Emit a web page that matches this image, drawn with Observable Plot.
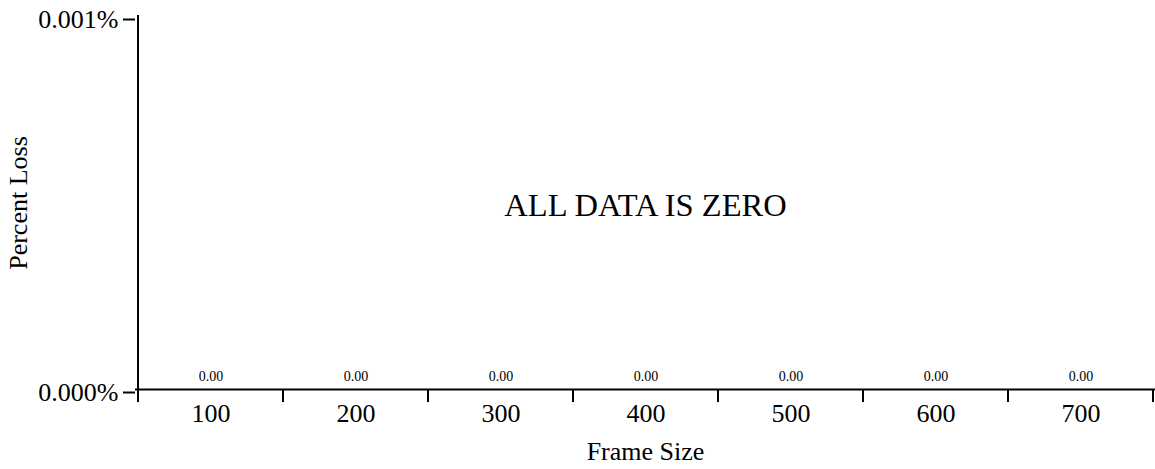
<!DOCTYPE html>
<html>
<head>
<meta charset="utf-8">
<script src="https://cdn.jsdelivr.net/npm/d3@7"></script>
<script src="https://cdn.jsdelivr.net/npm/@observablehq/plot@0.6"></script>
<style>
  html, body { margin: 0; padding: 0; background: #fff; }
</style>
</head>
<body>
<div id="chart"></div>
<script>
const frameSizes = ["100", "200", "300", "400", "500", "600", "700"];
const lossValues = [0, 0, 0, 0, 0, 0, 0];
const yTicks = [0, 0.00001];
const yTickLabels = ["0.000%", "0.001%"];
const centerMessage = "ALL DATA IS ZERO";
const xTitle = "Frame Size";
const yTitle = "Percent Loss";

const data = frameSizes.map((s, i) => ({size: s, loss: lossValues[i]}));
const fmtY = v => yTickLabels[yTicks.indexOf(v)] ?? d3.format(".3%")(v);

function axisFrame(index, scales, values, dimensions) {
  const x = scales.x, y = scales.y;
  const bw = typeof x.bandwidth === "function" ? x.bandwidth() : x.bandwidth;
  const y0 = y(0);
  const yTop = y(yTicks[yTicks.length - 1]);
  const g = d3.create("svg:g").attr("stroke", "#000").attr("stroke-width", 2).attr("fill", "none");
  const xLeft = x(frameSizes[0]);
  g.append("line").attr("x1", xLeft).attr("x2", xLeft).attr("y1", yTop - 1).attr("y2", y0 + 13);
  const bounds = frameSizes.map(s => x(s)).concat([x(frameSizes[frameSizes.length - 1]) + bw]);
  bounds.forEach(b => {
    const bx = Math.min(b, dimensions.width - 1);
    g.append("line").attr("x1", bx).attr("x2", bx).attr("y1", y0).attr("y2", y0 + 13);
  });
  return g.node();
}

const chart = Plot.plot({
  width: 1155,
  height: 469,
  marginLeft: 135,
  marginRight: 0,
  marginTop: 16,
  marginBottom: 80,
  style: {fontFamily: "'Liberation Serif', 'Times New Roman', serif", background: "#fff", color: "#000", overflow: "visible"},
  x: {type: "band", domain: frameSizes, padding: 0, label: null},
  y: {domain: [0, yTicks[yTicks.length - 1]], label: null},
  marks: [
    Plot.barY(data, {x: "size", y: "loss", fill: "#4472c4", inset: 20}),
    Plot.text(data, {x: "size", y: "loss", text: d => d3.format(".2f")(d.loss), dy: -13, fontSize: 14, fill: "#000"}),
    Plot.axisY({ticks: yTicks, tickFormat: fmtY, tickSize: 12, tickPadding: 5, fontSize: 26, strokeWidth: 2, dy: 3, label: null}),
    Plot.axisX({tickSize: 0, tickPadding: 14, fontSize: 26, label: null}),
    Plot.ruleY([0], {stroke: "#000", strokeWidth: 2}),
    axisFrame,
    Plot.text([centerMessage], {frameAnchor: "middle", fontSize: 32.5, dy: 3, fill: "#000"}),
    Plot.text([xTitle], {frameAnchor: "bottom", textAnchor: "middle", fontSize: 26, dy: 70, fill: "#000"}),
    Plot.text([yTitle], {frameAnchor: "left", textAnchor: "middle", rotate: -90, fontSize: 26, dx: -117, fill: "#000"})
  ]
});
document.getElementById("chart").appendChild(chart);
</script>
</body>
</html>
